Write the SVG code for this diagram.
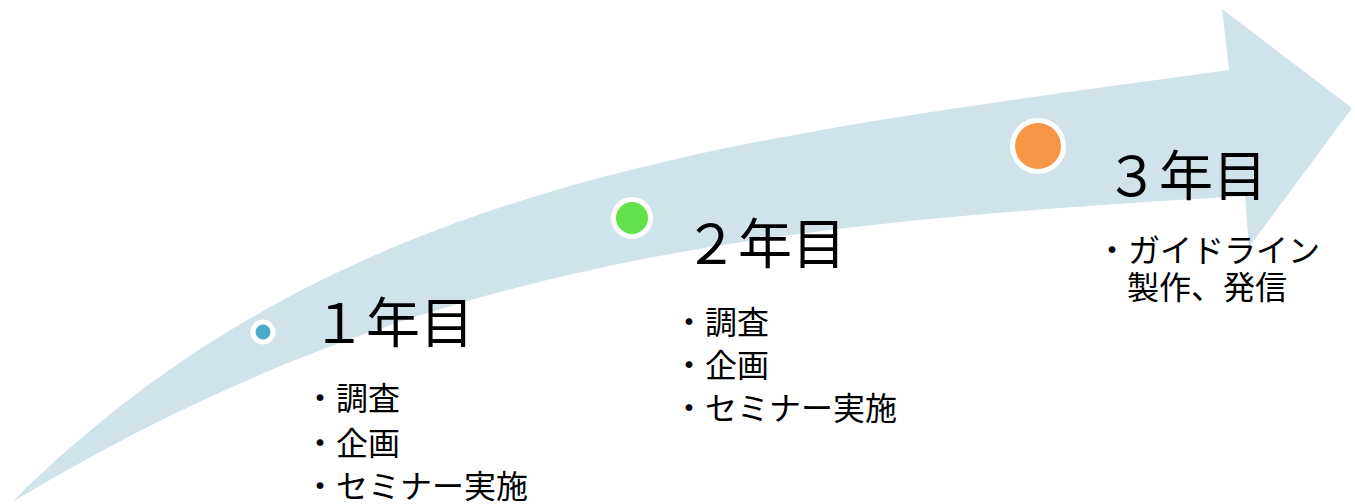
<svg xmlns="http://www.w3.org/2000/svg" width="1355" height="504" viewBox="0 0 1355 504">
<style>
text{font-family:"Noto Sans CJK JP","Noto Sans CJK SC",sans-serif;fill:#000}
.title{font-size:54px}
.item{font-size:32px}
.dot{stroke:#fff;stroke-width:5}
</style>
<g id="arrow">
<path d="M12,502 C340,175 740,138 1229,70 L1222,9 L1352,108 L1249,247 L1245,196 C745,225 412,262 12,502 Z" fill="#d0e2ea"/>
</g>
<g id="year1">
<circle class="dot" cx="263" cy="332" r="10" fill="#4bacc6"/>
<text class="title" x="312" y="343">１年目</text>
<text class="item" x="304" y="410">・調査</text>
<text class="item" x="304" y="455">・企画</text>
<text class="item" x="304" y="498">・セミナー実施</text>
</g>
<g id="year2">
<circle class="dot" cx="632" cy="218" r="18.5" fill="#62e24a"/>
<text class="title" x="684" y="264">２年目</text>
<text class="item" x="673" y="334">・調査</text>
<text class="item" x="673" y="377">・企画</text>
<text class="item" x="673" y="420">・セミナー実施</text>
</g>
<g id="year3">
<circle class="dot" cx="1038" cy="146" r="25.5" fill="#f79646"/>
<text class="title" x="1105" y="196">３年目</text>
<text class="item" x="1096" y="262">・ガイドライン</text>
<text class="item" x="1127" y="299">製作、発信</text>
</g>
</svg>
